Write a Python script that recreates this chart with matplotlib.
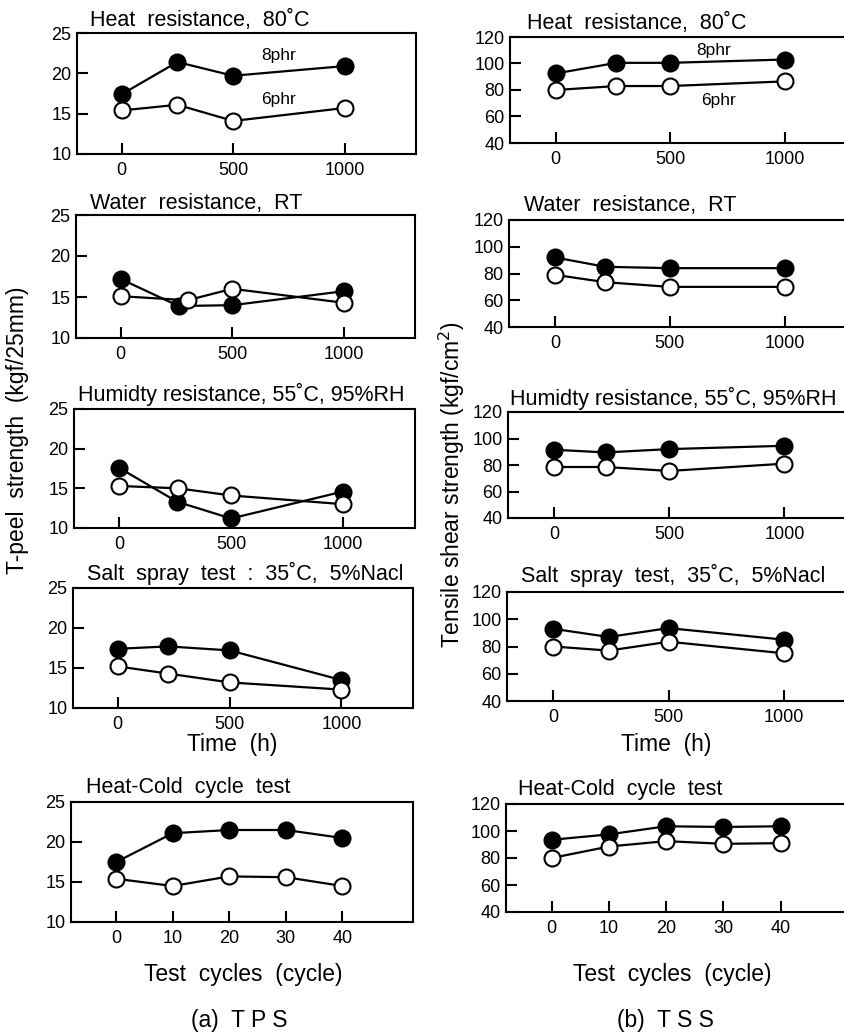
import matplotlib
matplotlib.use("Agg")
import matplotlib.pyplot as plt

plt.rcParams['font.family'] = ['Liberation Sans', 'DejaVu Sans']

W, H = 845, 1036

# ---------------- data ----------------
# (a) TPS, T-peel strength (kgf/25mm)
tps_heat_x8 = [0, 250, 500, 1000]
tps_heat_x6 = [0, 250, 500, 1000]
tps_heat_8 = [17.4, 21.4, 19.7, 20.9]
tps_heat_6 = [15.4, 16.1, 14.1, 15.7]

tps_water_x8 = [0, 260, 500, 1000]
tps_water_x6 = [0, 300, 500, 1000]
tps_water_8 = [17.2, 13.9, 14.0, 15.7]
tps_water_6 = [15.1, 14.6, 16.0, 14.3]

tps_humid_x8 = [0, 260, 500, 1000]
tps_humid_x6 = [0, 265, 500, 1000]
tps_humid_8 = [17.6, 13.3, 11.2, 14.6]
tps_humid_6 = [15.3, 15.0, 14.1, 13.0]

tps_salt_x8 = [0, 225, 500, 1000]
tps_salt_x6 = [0, 225, 500, 1000]
tps_salt_8 = [17.4, 17.7, 17.2, 13.5]
tps_salt_6 = [15.2, 14.3, 13.2, 12.3]

cycles = [0, 10, 20, 30, 40]
tps_cycle_8 = [17.5, 21.1, 21.5, 21.5, 20.5]
tps_cycle_6 = [15.4, 14.5, 15.7, 15.6, 14.5]

# (b) TSS, Tensile shear strength (kgf/cm2)
tss_heat_x = [0, 265, 500, 1000]
tss_heat_8 = [92.5, 100.5, 100.5, 103.0]
tss_heat_6 = [80.0, 83.0, 83.0, 86.5]

tss_water_x = [0, 220, 500, 1000]
tss_water_8 = [92.0, 85.0, 84.0, 84.0]
tss_water_6 = [79.0, 73.5, 70.0, 70.0]

tss_humid_x = [0, 225, 500, 1000]
tss_humid_8 = [91.5, 89.5, 92.0, 94.5]
tss_humid_6 = [78.5, 78.5, 75.5, 81.0]

tss_salt_x = [0, 240, 500, 1000]
tss_salt_8 = [93.0, 87.0, 93.5, 85.0]
tss_salt_6 = [80.0, 77.0, 83.5, 75.0]

tss_cycle_8 = [93.5, 97.5, 103.5, 103.0, 103.5]
tss_cycle_6 = [80.0, 88.5, 92.5, 90.5, 91.0]

time_ticks = [0, 500, 1000]
tps_yticks = [10, 15, 20, 25]
tss_yticks = [40, 60, 80, 100, 120]

titles_tps = ["Heat  resistance,  80\u02daC", "Water  resistance,  RT",
              "Humidty resistance, 55\u02daC, 95%RH",
              "Salt  spray  test  :  35\u02daC,  5%Nacl", "Heat-Cold  cycle  test"]
titles_tss = ["Heat  resistance,  80\u02daC", "Water  resistance,  RT",
              "Humidty resistance, 55\u02daC, 95%RH",
              "Salt  spray  test,  35\u02daC,  5%Nacl", "Heat-Cold  cycle  test"]

# ---------------- figure ----------------
fig = plt.figure(figsize=(W / 100, H / 100), dpi=100)
fig.patch.set_facecolor('white')


def rect(l, t, r, b):
    return [l / W, 1 - b / H, (r - l) / W, (b - t) / H]


def style(ax, xlim, ylim, xticks, yticks):
    ax.set_xlim(*xlim)
    ax.set_ylim(*ylim)
    ax.set_xticks(xticks)
    ax.set_yticks(yticks)
    for s in ax.spines.values():
        s.set_linewidth(1.5)
    ax.tick_params(axis='y', direction='in', length=8, width=1.5,
                   labelsize=13, pad=4)
    ax.tick_params(axis='x', direction='in', length=8, width=1.5,
                   labelsize=13, pad=6)


def draw(ax, x8, y8, x6, y6):
    ax.plot(x8, y8, '-o', color='black', lw=1.6, ms=11.5, mfc='black',
            mec='black', mew=1.5, zorder=3)
    ax.plot(x6, y6, '-o', color='black', lw=1.6, ms=11.5, mfc='white',
            mec='black', mew=1.5, zorder=4)


def ftext(x, y, s, **kw):
    fig.text(x / W, 1 - y / H, s, **kw)


tfs = 15.5
# Left column (TPS)
left_rects = [(77, 33, 416, 154), (76, 215, 415, 338), (74, 409, 415, 528),
              (73, 588, 413, 708), (71, 802, 413, 922)]
left_data = [(tps_heat_x8, tps_heat_8, tps_heat_x6, tps_heat_6),
             (tps_water_x8, tps_water_8, tps_water_x6, tps_water_6),
             (tps_humid_x8, tps_humid_8, tps_humid_x6, tps_humid_6),
             (tps_salt_x8, tps_salt_8, tps_salt_x6, tps_salt_6),
             (cycles, tps_cycle_8, cycles, tps_cycle_6)]
left_title_pos = [(90, 20), (90, 203), (78, 394), (87, 573), (86, 787)]

axes_left = []
for i, (r, d, tp, t) in enumerate(zip(left_rects, left_data, left_title_pos, titles_tps)):
    ax = fig.add_axes(rect(*r))
    draw(ax, *d)
    if i < 4:
        style(ax, (-200, 1320), (10, 25), time_ticks, tps_yticks)
    else:
        style(ax, (-8, 52.5), (10, 25), cycles, tps_yticks)
    ftext(tp[0], tp[1], t, ha='left', va='center', fontsize=tfs)
    axes_left.append(ax)

axes_left[0].text(703, 22.2, "8phr", fontsize=12.5, ha='center', va='center')
axes_left[0].text(703, 16.7, "6phr", fontsize=12.5, ha='center', va='center')

# Right column (TSS)
right_rects = [(510, 37, 858, 143), (509, 220, 858, 327), (508, 412, 858, 518),
               (507, 592, 858, 701), (506, 804, 852, 912)]
right_data = [(tss_heat_x, tss_heat_8, tss_heat_x, tss_heat_6),
              (tss_water_x, tss_water_8, tss_water_x, tss_water_6),
              (tss_humid_x, tss_humid_8, tss_humid_x, tss_humid_6),
              (tss_salt_x, tss_salt_8, tss_salt_x, tss_salt_6),
              (cycles, tss_cycle_8, cycles, tss_cycle_6)]
right_title_pos = [(527, 23), (524, 205), (510, 398), (521, 575), (518, 790)]

axes_right = []
for i, (r, d, tp, t) in enumerate(zip(right_rects, right_data, right_title_pos, titles_tss)):
    ax = fig.add_axes(rect(*r))
    draw(ax, *d)
    if i < 4:
        style(ax, (-200, 1320), (40, 120), time_ticks, tss_yticks)
    else:
        style(ax, (-8, 52.5), (40, 120), cycles, tss_yticks)
    ftext(tp[0], tp[1], t, ha='left', va='center', fontsize=tfs)
    axes_right.append(ax)

axes_right[0].text(690, 109.5, "8phr", fontsize=12.5, ha='center', va='center')
axes_right[0].text(712, 72.3, "6phr", fontsize=12.5, ha='center', va='center')

# axis labels
lfs = 16.5
ftext(18, 430, "T-peel  strength  (kgf/25mm)", rotation=90, ha='center',
      va='center', fontsize=lfs)
ftext(452, 485, "Tensile shear strength (kgf/cm$^2$)", rotation=90,
      ha='center', va='center', fontsize=lfs)
ftext(232, 745, "Time  (h)", ha='center', va='center', fontsize=lfs)
ftext(666, 745, "Time  (h)", ha='center', va='center', fontsize=lfs)
ftext(243, 975, "Test  cycles  (cycle)", ha='center', va='center', fontsize=lfs)
ftext(672, 975, "Test  cycles  (cycle)", ha='center', va='center', fontsize=lfs)
ftext(239, 1020, "(a)  T P S", ha='center', va='center', fontsize=lfs)
ftext(665, 1020, "(b)  T S S", ha='center', va='center', fontsize=lfs)

fig.savefig("out.png", dpi=100)
